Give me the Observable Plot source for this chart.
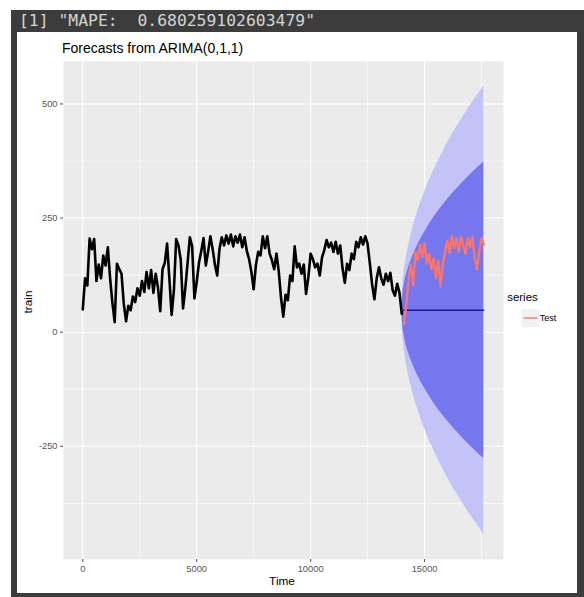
<!DOCTYPE html>
<html><head><meta charset="utf-8">
<script src="https://cdn.jsdelivr.net/npm/d3@7"></script>
<script src="https://cdn.jsdelivr.net/npm/@observablehq/plot@0.6"></script>
<style>
html,body{margin:0;padding:0;background:#fff;width:584px;height:597px;overflow:hidden;}
#frame{position:absolute;left:11px;top:10px;width:573px;height:587px;background:#3c3c3c;}
#mape{position:absolute;left:19px;top:10px;font-family:"DejaVu Sans Mono",monospace;font-size:16.4px;color:#d4d4d4;white-space:pre;line-height:22px;}
#panel{position:absolute;left:17px;top:32px;width:560px;height:561px;background:#fff;}
#title{position:absolute;left:45px;top:8px;font-family:"Liberation Sans",Arial,sans-serif;font-size:14px;color:#000;line-height:16px;white-space:pre;}
#chart{position:absolute;left:0;top:0;}
</style></head>
<body>
<div id="frame"></div>
<div id="mape">[1] "MAPE:  0.680259102603479"</div>
<div id="panel"><div id="chart"></div><div id="title">Forecasts from ARIMA(0,1,1)</div></div>
<script>
// ---- data ----
const trainStep = 100;           // time step of the sampled training series (starts at 0)
const trainValues = [
  50,118,102,205,182,204,112,148,118,168,
  146,186,118,64,22,150,138,128,62,24,
  58,48,78,66,96,80,112,88,132,96,
  136,86,128,98,46,138,152,194,118,38,
  92,204,190,158,52,96,152,208,188,74,
  110,152,178,206,146,176,210,182,148,124,
  182,208,190,212,194,214,188,210,196,214,
  186,208,178,160,132,94,148,176,168,210,
  184,210,172,158,138,172,134,76,34,82,
  70,124,112,188,142,150,128,148,84,120,
  172,160,142,150,124,164,180,202,186,196,
  176,198,172,190,140,108,150,136,172,160,
  198,186,208,192,210,194,150,104,72,118,
  142,118,104,128,112,130,92,80,106,86,
  40
];
const testStart = 14100;
const testStep = 100;
const testValues = [
  18,62,118,148,102,176,158,192,164,196,
  150,172,138,162,118,156,100,148,176,200,
  174,210,184,206,176,210,190,172,206,186,
  210,162,138,176,206,192
];
const forecastTime = [14000, 17600];
const forecastValue = [48, 48];
const bandTime = [14000, 14050, 14100, 14200, 14400, 14700, 15000, 15400, 15800, 16200, 16600, 17000, 17300, 17600];
const hi95 = [52, 106, 130, 164, 212, 265, 307, 354, 395, 432, 465, 496, 518, 539];
const lo95 = [44, -10, -34, -68, -116, -169, -211, -258, -299, -336, -369, -400, -422, -443];
const hi80 = [50, 86, 102, 125, 156, 191, 219, 251, 278, 302, 324, 345, 359, 373];
const lo80 = [46, 10, -6, -29, -60, -95, -123, -155, -182, -206, -228, -249, -263, -277];
const xTicks = [0, 5000, 10000, 15000];
const xMinor = [2500, 7500, 12500, 17500];
const yTicks = [-250, 0, 250, 500];
const yMinor = [-375, -125, 125, 375];
const seriesName = "Test";

// ---- tables ----
const train = trainValues.map((v, i) => ({t: i * trainStep, v}));
const test = testValues.map((v, i) => ({t: testStart + i * testStep, v}));
const fc = forecastTime.map((t, i) => ({t, v: forecastValue[i]}));
const bands = bandTime.map((t, i) => ({t, hi95: hi95[i], lo95: lo95[i], hi80: hi80[i], lo80: lo80[i]}));

const fmt = d => String(d);
const chart = Plot.plot({
  width: 560, height: 561,
  marginLeft: 46, marginRight: 74, marginTop: 29, marginBottom: 34,
  style: {fontFamily: "'Liberation Sans', Arial, sans-serif", fontSize: "9.3px", color: "#555", background: "transparent"},
  x: {domain: [-846, 18465]},
  y: {domain: [-498, 593]},
  marks: [
    Plot.frame({fill: "#EBEBEB", stroke: "none"}),
    Plot.gridX(xMinor, {stroke: "#fff", strokeOpacity: 1, strokeWidth: 0.55}),
    Plot.gridY(yMinor, {stroke: "#fff", strokeOpacity: 1, strokeWidth: 0.55}),
    Plot.gridX(xTicks, {stroke: "#fff", strokeOpacity: 1, strokeWidth: 1.1}),
    Plot.gridY(yTicks, {stroke: "#fff", strokeOpacity: 1, strokeWidth: 1.1}),
    Plot.areaY(bands, {x: "t", y1: "lo95", y2: "hi95", fill: "#C3C3F7", curve: "monotone-x"}),
    Plot.areaY(bands, {x: "t", y1: "lo80", y2: "hi80", fill: "#7676EE", curve: "monotone-x"}),
    Plot.lineY(train, {x: "t", y: "v", stroke: "#000", strokeWidth: 2.6, strokeLinejoin: "round"}),
    Plot.lineY(fc, {x: "t", y: "v", stroke: "#1c1c9c", strokeWidth: 1.4}),
    Plot.lineY(test, {x: "t", y: "v", stroke: "#F8766D", strokeWidth: 2.4, strokeLinejoin: "round"}),
    Plot.axisX(xTicks, {tickFormat: fmt, tickSize: 3, tickPadding: 2.5, label: null}),
    Plot.axisY(yTicks, {tickFormat: fmt, tickSize: 3, tickPadding: 3, label: null})
  ]
});
document.getElementById("chart").appendChild(chart);

// axis titles and legend
const svg = d3.select(chart);
const font = "'Liberation Sans', Arial, sans-serif";
svg.append("text").attr("x", 265).attr("y", 550).attr("text-anchor", "middle")
  .attr("dominant-baseline", "middle").attr("font-family", font).attr("font-size", 11.8).attr("fill", "#000").text("Time");
svg.append("text").attr("transform", "translate(11.5,270) rotate(-90)").attr("text-anchor", "middle")
  .attr("dominant-baseline", "middle").attr("font-family", font).attr("font-size", 11.8).attr("fill", "#000").text("train");
const lg = svg.append("g");
lg.append("text").attr("x", 505.5).attr("y", 266).attr("dominant-baseline", "middle")
  .attr("font-family", font).attr("font-size", 11.4).attr("fill", "#000").text("series");
lg.append("rect").attr("x", 504.5).attr("y", 277).attr("width", 18).attr("height", 18).attr("fill", "#F2F2F2");
lg.append("line").attr("x1", 506.5).attr("x2", 520.5).attr("y1", 286).attr("y2", 286)
  .attr("stroke", "#F8766D").attr("stroke-width", 1.4);
lg.append("text").attr("x", 531).attr("y", 286.5).attr("dominant-baseline", "middle")
  .attr("font-family", font).attr("font-size", 9).attr("fill", "#000").text(seriesName);
</script>
</body></html>
